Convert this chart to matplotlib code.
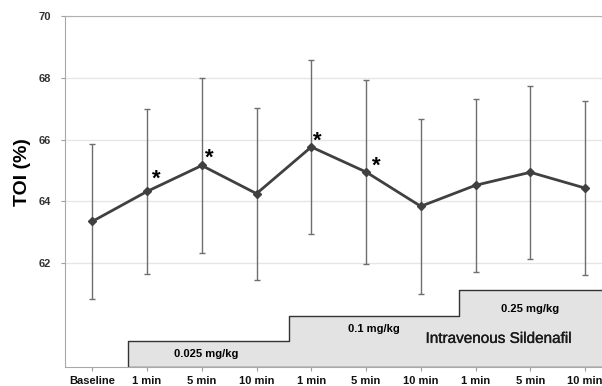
import matplotlib.pyplot as plt
import matplotlib.patheffects as pe

plt.rcParams['font.family'] = ['Liberation Sans', 'DejaVu Sans']

# Werte
zeitpunkte = ['Baseline', '1 min', '5 min', '10 min', '1 min', '5 min', '10 min', '1 min', '5 min', '10 min']
toi = [63.35, 64.32, 65.16, 64.25, 65.76, 64.95, 63.84, 64.52, 64.94, 64.43]
fehler = [2.51, 2.66, 2.84, 2.78, 2.81, 2.98, 2.84, 2.80, 2.80, 2.82]
signifikant = [1, 2, 4, 5]
dosen = ['0.025 mg/kg', '0.1 mg/kg', '0.25 mg/kg']

fig = plt.figure(figsize=(6.02, 3.86), dpi=100)
ax = fig.add_axes([0.1078, 0.05, 0.9095, 0.9088])

x = list(range(len(zeitpunkte)))
y_unten = 58.65

# Treppe fuer die Dosisstufen
stufen_x = [0.66, 3.6, 6.7, 9.8]
stufen_y = [59.48, 60.29, 61.13, 61.13]
ax.fill_between(stufen_x, y_unten, stufen_y, step='post', facecolor='#e3e3e3',
                edgecolor='#333333', linewidth=1.0, zorder=1)
ax.text(2.08, 59.07, dosen[0], ha='center', va='center', fontsize=8, fontweight='bold', zorder=5)
ax.text(5.14, 59.88, dosen[1], ha='center', va='center', fontsize=8, fontweight='bold', zorder=5)
ax.text(8.0, 60.53, dosen[2], ha='center', va='center', fontsize=8, fontweight='bold', zorder=5)
ax.text(7.42, 59.55, 'Intravenous Sildenafil', ha='center', va='center', fontsize=11, zorder=5,
        color='#1a1a1a', path_effects=[pe.withStroke(linewidth=0.25, foreground='#1a1a1a')])

# Mittelwerte mit Fehlerbalken
ax.errorbar(x, toi, yerr=fehler, fmt='none', ecolor='#6e6e6e', elinewidth=1.0,
            capsize=2.5, capthick=1.0, zorder=3)
ax.plot(x, toi, color='#404040', linewidth=2, marker='D', markersize=4.5,
        markerfacecolor='#404040', markeredgecolor='#404040', zorder=4)

# Sternchen
versatz = [(9, 12), (8, 7), (6, 6), (10, 6)]
for i, (dx, dy) in zip(signifikant, versatz):
    ax.annotate('*', (x[i], toi[i]), xytext=(dx, dy), textcoords='offset pixels',
                ha='center', va='center', fontsize=16, fontweight='bold', zorder=6)

ax.set_xlim(-0.5, 9.5)
ax.set_ylim(y_unten, 70)
ax.set_yticks([62, 64, 66, 68, 70])
ax.set_yticklabels(['62', '64', '66', '68', '70'], fontsize=8, fontweight='bold', color='#333333')
ax.set_xticks(x)
ax.set_xticklabels(zeitpunkte, fontsize=8, fontweight='bold', color='#111111')
ax.tick_params(axis='both', length=3, color='#a0a0a0', width=0.8)
ax.tick_params(axis='y', pad=7)
ax.tick_params(axis='x', pad=4)

ax.grid(axis='y', color='#e6e6e6', linewidth=1.0, zorder=0)
ax.set_axisbelow(True)
ax.spines['right'].set_visible(False)
ax.spines['top'].set_color('#b0b0b0')
ax.spines['left'].set_color('#a8a8a8')
ax.spines['bottom'].set_color('#a8a8a8')

fig.text(0.038, 1 - 172 / 386, 'TOI (%)', rotation=90, ha='center', va='center',
         fontsize=14, fontweight='bold')

fig.savefig('out.png', dpi=100)
